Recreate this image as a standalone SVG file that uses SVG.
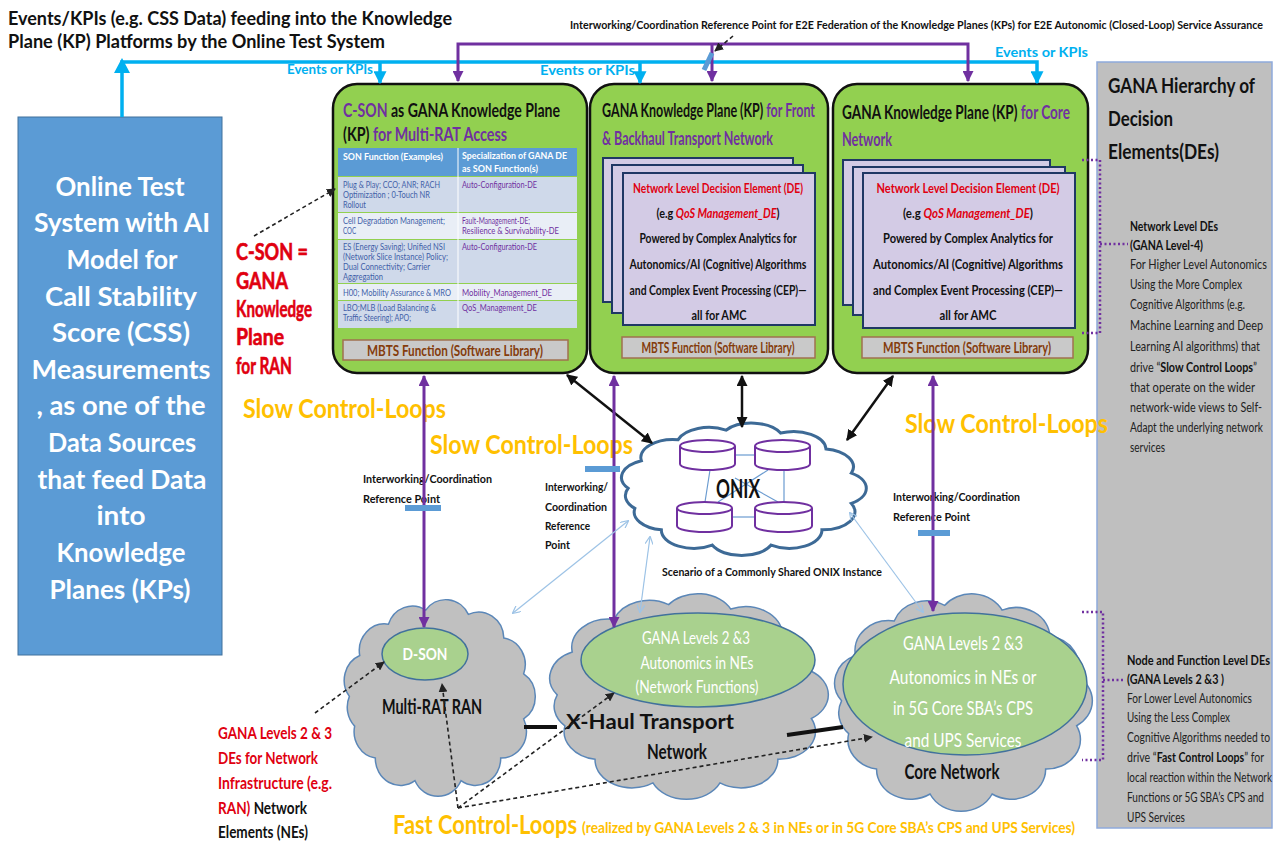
<svg xmlns="http://www.w3.org/2000/svg" width="1276" height="843" viewBox="0 0 1276 843">
<defs>
<style>
text{font-family:Lato,"Liberation Sans","Noto Sans",sans-serif}
.ttl{font-size:18px;font-weight:bold;fill:#111}
.ref{font-size:12px;font-weight:bold;fill:#111}
.evt{font-size:13px;font-weight:bold;fill:#00B0F0}
.otb{font-size:27px;font-weight:bold;fill:#fff}
.redl{font-size:22px;font-weight:bold;fill:#E00010;stroke:#E00010;stroke-width:0.6}
.kpt{font-size:19px;font-weight:bold;fill:#111}
.de{font-size:14px;font-weight:bold;fill:#111}
.mbts{font-size:15px;font-weight:bold;fill:#843C0C}
.th{font-size:8.5px;font-weight:bold;fill:#fff}
.tl{font-size:8.5px;fill:#3F5FA8}
.tr{font-size:8.5px;fill:#7030A0}
.slow{font-size:27px;font-weight:bold;fill:#FFC000}
.fastp{font-size:15px;font-weight:bold;fill:#FFC000}
.iw{font-size:12px;font-weight:bold;fill:#111}
.ph{font-size:21px;font-weight:bold;fill:#111}
.pb{font-size:12.5px;font-weight:bold;fill:#111}
.pn{font-size:12.5px;fill:#222}
.ell{font-size:18px;fill:#fff}
.ellb{font-size:20px;fill:#fff}
.cl{font-size:20px;font-weight:bold;fill:#111}
.bl{font-size:17px;font-weight:bold}
.kp{fill:#92D050;stroke:#111;stroke-width:2.5}
.mb{fill:#C9C9C9;stroke:#A0704F;stroke-width:1.5}
.dep{fill:#D3CBE5;stroke:#1F3864;stroke-width:2}
.cyl{fill:#fff;stroke:#7030A0;stroke-width:2}
.cloudg{fill:#C0C0C0;stroke:#5B87B8;stroke-width:1.5}
.cloudw{fill:#fff;stroke:#3D6A96;stroke-width:3}
.gell{fill:#A9D18E;stroke:#41719C;stroke-width:1.5}
.cy{fill:none;stroke:#00B0F0;stroke-width:3.5}
.pu{fill:none;stroke:#7030A0;stroke-width:3}
.bk{fill:none;stroke:#111;stroke-width:2.5}
.lb{fill:none;stroke:#9DC3E6;stroke-width:1.2}
.ds{fill:none;stroke:#222;stroke-width:1.6;stroke-dasharray:4 3}
.dot{fill:none;stroke:#7030A0;stroke-width:2.5;stroke-dasharray:2 2.5}
.mk{fill:#5B9BD5}
.net{stroke:#6A9BD0;stroke-width:1.2}
/* colour overrides come last so they win over the text styles */
.red{fill:#E00010}
.pur{fill:#7030A0}
.blk{fill:#111}
</style>
<marker id="ac" viewBox="0 0 10 10" refX="9" refY="5" markerUnits="userSpaceOnUse" markerWidth="13" markerHeight="13" orient="auto-start-reverse"><path d="M0,0 L10,5 L0,10 z" fill="#00B0F0"/></marker>
<marker id="ap" viewBox="0 0 10 10" refX="9" refY="5" markerUnits="userSpaceOnUse" markerWidth="11" markerHeight="11" orient="auto-start-reverse"><path d="M0,0 L10,5 L0,10 z" fill="#7030A0"/></marker>
<marker id="ab" viewBox="0 0 10 10" refX="9" refY="5" markerUnits="userSpaceOnUse" markerWidth="11" markerHeight="11" orient="auto-start-reverse"><path d="M0,0 L10,5 L0,10 z" fill="#111"/></marker>
<marker id="al" viewBox="0 0 10 10" refX="9" refY="5" markerUnits="userSpaceOnUse" markerWidth="8" markerHeight="8" orient="auto-start-reverse"><path d="M0,0 L10,5 L0,10" fill="none" stroke="#9DC3E6" stroke-width="1.5"/></marker>
<marker id="ad" viewBox="0 0 10 10" refX="9" refY="5" markerUnits="userSpaceOnUse" markerWidth="9" markerHeight="9" orient="auto-start-reverse"><path d="M0,0 L10,5 L0,10 z" fill="#222"/></marker>
<!-- cloud outline in a 100x100 box, scaled per use -->
<path id="cloud" vector-effect="non-scaling-stroke" d="M8,50 A12,12 0 0 1 12.9,31.7 A12,12 0 0 1 26.5,17.7 A12,12 0 0 1 44.2,11.4 A12,12 0 0 1 64.4,13.3 A12,12 0 0 1 81.2,23.9 A12,12 0 0 1 90.6,39.9 A12,12 0 0 1 90.6,60.1 A12,12 0 0 1 79.7,77.6 A12,12 0 0 1 60.9,87.7 A12,12 0 0 1 39.1,87.7 A12,12 0 0 1 20.3,77.6 A12,12 0 0 1 10.5,63.3 A12,12 0 0 1 8,50 Z"/>
</defs>

<rect width="1276" height="843" fill="#fff"/>

<!-- headings -->
<g id="headings">
<text class="ttl" x="8" y="25" textLength="444" lengthAdjust="spacingAndGlyphs">Events/KPIs (e.g. CSS Data) feeding into the Knowledge</text>
<text class="ttl" x="8" y="48" textLength="377" lengthAdjust="spacingAndGlyphs">Plane (KP) Platforms by the Online Test System</text>
<text class="ref" x="570" y="29" textLength="693" lengthAdjust="spacingAndGlyphs">Interworking/Coordination Reference Point for E2E Federation of the Knowledge Planes (KPs) for E2E Autonomic (Closed-Loop) Service Assurance</text>
<text class="evt" x="287" y="74" textLength="86" lengthAdjust="spacingAndGlyphs">Events or KPIs</text>
<text class="evt" x="540" y="75" textLength="95" lengthAdjust="spacingAndGlyphs">Events or KPIs</text>
<text class="evt" x="995" y="57" textLength="93" lengthAdjust="spacingAndGlyphs">Events or KPIs</text>
</g>

<!-- online test system -->
<g id="online-test-system">
<rect x="18" y="117" width="204" height="538" fill="#5B9BD5" stroke="#41719C" stroke-width="1"/>
<g class="otb" text-anchor="middle">
<text x="120" y="196" textLength="129" lengthAdjust="spacingAndGlyphs">Online Test</text>
<text x="122" y="232" textLength="176" lengthAdjust="spacingAndGlyphs">System with AI</text>
<text x="122" y="269" textLength="111" lengthAdjust="spacingAndGlyphs">Model for</text>
<text x="121" y="306" textLength="152" lengthAdjust="spacingAndGlyphs">Call Stability</text>
<text x="121" y="342" textLength="138" lengthAdjust="spacingAndGlyphs">Score (CSS)</text>
<text x="121" y="379" textLength="179" lengthAdjust="spacingAndGlyphs">Measurements</text>
<text x="121" y="415" textLength="169" lengthAdjust="spacingAndGlyphs">, as one of the</text>
<text x="122" y="452" textLength="148" lengthAdjust="spacingAndGlyphs">Data Sources</text>
<text x="122" y="489" textLength="169" lengthAdjust="spacingAndGlyphs">that feed Data</text>
<text x="121" y="525" textLength="49" lengthAdjust="spacingAndGlyphs">into</text>
<text x="121" y="562" textLength="129" lengthAdjust="spacingAndGlyphs">Knowledge</text>
<text x="120" y="599" textLength="141" lengthAdjust="spacingAndGlyphs">Planes (KPs)</text>
</g>
</g>

<!-- C-SON label -->
<g id="cson-label" class="redl">
<text x="236" y="260" textLength="72" lengthAdjust="spacingAndGlyphs">C-SON =</text>
<text x="236" y="289" textLength="52" lengthAdjust="spacingAndGlyphs">GANA</text>
<text x="236" y="317" textLength="76" lengthAdjust="spacingAndGlyphs">Knowledge</text>
<text x="236" y="345" textLength="48" lengthAdjust="spacingAndGlyphs">Plane</text>
<text x="236" y="374" textLength="56" lengthAdjust="spacingAndGlyphs">for RAN</text>
</g>

<!-- KP 1: C-SON -->
<g id="kp-cson">
<rect class="kp" x="333" y="84" width="254" height="289" rx="24"/>
<text class="kpt" x="343" y="117" textLength="217" lengthAdjust="spacingAndGlyphs"><tspan class="pur">C-SON</tspan> as GANA Knowledge Plane</text>
<text class="kpt" x="343" y="141" textLength="164" lengthAdjust="spacingAndGlyphs">(KP)<tspan class="pur"> for Multi-RAT Access</tspan></text>
<rect x="338" y="148" width="239" height="28" fill="#5B9BD5"/>
<rect x="338" y="177" width="239" height="35" fill="#CFD9EA"/>
<rect x="338" y="213" width="239" height="26" fill="#E9EEF6"/>
<rect x="338" y="240" width="239" height="43" fill="#CFD9EA"/>
<rect x="338" y="284" width="239" height="16" fill="#E9EEF6"/>
<rect x="338" y="301" width="239" height="27" fill="#CFD9EA"/>
<line x1="458" y1="148" x2="458" y2="328" stroke="#fff" stroke-width="1"/>
<text class="th" x="343" y="160" textLength="100" lengthAdjust="spacingAndGlyphs">SON Function (Examples)</text>
<text class="th" x="462" y="159" textLength="105" lengthAdjust="spacingAndGlyphs">Specialization of GANA DE</text>
<text class="th" x="462" y="172" textLength="76" lengthAdjust="spacingAndGlyphs">as SON Function(s)</text>
<text class="tl" x="343" y="188" textLength="97" lengthAdjust="spacingAndGlyphs">Plug &amp; Play; CCO; ANR; RACH</text>
<text class="tl" x="343" y="198" textLength="87" lengthAdjust="spacingAndGlyphs">Optimization ; 0-Touch NR</text>
<text class="tl" x="343" y="208" textLength="23" lengthAdjust="spacingAndGlyphs">Rollout</text>
<text class="tr" x="462" y="188" textLength="75" lengthAdjust="spacingAndGlyphs">Auto-Configuration-DE</text>
<text class="tl" x="343" y="224" textLength="102" lengthAdjust="spacingAndGlyphs">Cell Degradation Management;</text>
<text class="tl" x="343" y="234" textLength="13" lengthAdjust="spacingAndGlyphs">COC</text>
<text class="tr" x="462" y="224" textLength="68" lengthAdjust="spacingAndGlyphs">Fault-Management-DE;</text>
<text class="tr" x="462" y="234" textLength="97" lengthAdjust="spacingAndGlyphs">Resilience &amp; Survivability-DE</text>
<text class="tl" x="343" y="250" textLength="102" lengthAdjust="spacingAndGlyphs">ES (Energy Saving); Unified NSI</text>
<text class="tl" x="343" y="260" textLength="105" lengthAdjust="spacingAndGlyphs">(Network Slice Instance) Policy;</text>
<text class="tl" x="343" y="270" textLength="87" lengthAdjust="spacingAndGlyphs">Dual Connectivity; Carrier</text>
<text class="tl" x="343" y="280" textLength="40" lengthAdjust="spacingAndGlyphs">Aggregation</text>
<text class="tr" x="462" y="250" textLength="75" lengthAdjust="spacingAndGlyphs">Auto-Configuration-DE</text>
<text class="tl" x="343" y="296" textLength="108" lengthAdjust="spacingAndGlyphs">H00; Mobility Assurance &amp; MRO</text>
<text class="tr" x="462" y="296" textLength="90" lengthAdjust="spacingAndGlyphs">Mobility_Management_DE</text>
<text class="tl" x="343" y="311" textLength="93" lengthAdjust="spacingAndGlyphs">LBO;MLB (Load Balancing &amp;</text>
<text class="tl" x="343" y="321" textLength="68" lengthAdjust="spacingAndGlyphs">Traffic Steering); APO;</text>
<text class="tr" x="462" y="311" textLength="75" lengthAdjust="spacingAndGlyphs">QoS_Management_DE</text>
<rect class="mb" x="343" y="340" width="225" height="20"/>
<text class="mbts" x="455" y="356" text-anchor="middle" textLength="176" lengthAdjust="spacingAndGlyphs">MBTS Function (Software Library)</text>
</g>

<!-- KP 2: transport -->
<g id="kp-transport">
<rect class="kp" x="590" y="84" width="238" height="289" rx="24"/>
<text class="kpt" x="602" y="117" textLength="213" lengthAdjust="spacingAndGlyphs">GANA Knowledge Plane (KP)<tspan class="pur"> for Front</tspan></text>
<text class="kpt pur" x="602" y="145" textLength="171" lengthAdjust="spacingAndGlyphs">&amp; Backhaul Transport Network</text>
<rect class="dep" x="603" y="158" width="190" height="144"/>
<rect class="dep" x="612" y="165" width="191" height="148"/>
<rect class="dep" x="623" y="173" width="192" height="152"/>
<g class="de" text-anchor="middle">
<text x="718" y="193" class="de red" textLength="170" lengthAdjust="spacingAndGlyphs">Network Level Decision Element (DE)</text>
<text x="718" y="218" textLength="123" lengthAdjust="spacingAndGlyphs">(e.g <tspan class="red" font-style="italic">QoS Management_DE</tspan>)</text>
<text x="718" y="243" textLength="157" lengthAdjust="spacingAndGlyphs">Powered by Complex Analytics for</text>
<text x="718" y="269" textLength="177" lengthAdjust="spacingAndGlyphs">Autonomics/AI (Cognitive) Algorithms</text>
<text x="718" y="295" textLength="177" lengthAdjust="spacingAndGlyphs">and Complex Event Processing (CEP)—</text>
<text x="719" y="320" textLength="55" lengthAdjust="spacingAndGlyphs">all  for AMC</text>
</g>
<rect class="mb" x="622" y="337" width="193" height="21"/>
<text class="mbts" x="718" y="353" text-anchor="middle" textLength="153" lengthAdjust="spacingAndGlyphs">MBTS Function (Software Library)</text>
</g>

<!-- KP 3: core -->
<g id="kp-core">
<rect class="kp" x="833" y="84" width="255" height="289" rx="24"/>
<text class="kpt" x="842" y="119" textLength="228" lengthAdjust="spacingAndGlyphs">GANA Knowledge Plane (KP)<tspan class="pur"> for Core</tspan></text>
<text class="kpt pur" x="842" y="146" textLength="50" lengthAdjust="spacingAndGlyphs">Network</text>
<rect class="dep" x="843" y="160" width="207" height="145"/>
<rect class="dep" x="853" y="167" width="212" height="148"/>
<rect class="dep" x="863" y="173" width="212" height="155"/>
<g class="de" text-anchor="middle">
<text x="968" y="193" class="de red" textLength="183" lengthAdjust="spacingAndGlyphs">Network Level Decision Element (DE)</text>
<text x="968" y="218" textLength="130" lengthAdjust="spacingAndGlyphs">(e.g <tspan class="red" font-style="italic">QoS Management_DE</tspan>)</text>
<text x="968" y="243" textLength="170" lengthAdjust="spacingAndGlyphs">Powered by Complex Analytics for</text>
<text x="968" y="269" textLength="190" lengthAdjust="spacingAndGlyphs">Autonomics/AI (Cognitive) Algorithms</text>
<text x="968" y="295" textLength="190" lengthAdjust="spacingAndGlyphs">and Complex Event Processing (CEP)—</text>
<text x="968" y="320" textLength="57" lengthAdjust="spacingAndGlyphs">all  for AMC</text>
</g>
<rect class="mb" x="862" y="337" width="211" height="21"/>
<text class="mbts" x="967" y="353" text-anchor="middle" textLength="168" lengthAdjust="spacingAndGlyphs">MBTS Function (Software Library)</text>
</g>

<!-- hierarchy panel -->
<g id="hierarchy-panel">
<rect x="1097" y="62" width="175" height="766" fill="#BFBFBF" stroke="#8FAADC" stroke-width="1.5"/>
<text class="ph" x="1108" y="93" textLength="147" lengthAdjust="spacingAndGlyphs">GANA Hierarchy of</text>
<text class="ph" x="1108" y="126" textLength="65" lengthAdjust="spacingAndGlyphs">Decision</text>
<text class="ph" x="1108" y="159" textLength="111" lengthAdjust="spacingAndGlyphs">Elements(DEs)</text>
<text class="pb" x="1130" y="231" textLength="88" lengthAdjust="spacingAndGlyphs">Network Level DEs</text>
<text class="pb" x="1130" y="250" textLength="73" lengthAdjust="spacingAndGlyphs">(GANA Level-4)</text>
<text class="pn" x="1130" y="269" textLength="137" lengthAdjust="spacingAndGlyphs">For Higher Level Autonomics</text>
<text class="pn" x="1130" y="289" textLength="112" lengthAdjust="spacingAndGlyphs">Using the More Complex</text>
<text class="pn" x="1130" y="309" textLength="115" lengthAdjust="spacingAndGlyphs">Cognitive Algorithms (e.g.</text>
<text class="pn" x="1130" y="330" textLength="133" lengthAdjust="spacingAndGlyphs">Machine Learning and Deep</text>
<text class="pn" x="1130" y="351" textLength="130" lengthAdjust="spacingAndGlyphs">Learning AI algorithms) that</text>
<text class="pn" x="1130" y="372" textLength="127" lengthAdjust="spacingAndGlyphs">drive “<tspan font-weight="bold" fill="#111">Slow Control Loops</tspan>”</text>
<text class="pn" x="1130" y="392" textLength="125" lengthAdjust="spacingAndGlyphs">that operate on the wider</text>
<text class="pn" x="1130" y="412" textLength="132" lengthAdjust="spacingAndGlyphs">network-wide views to Self-</text>
<text class="pn" x="1130" y="432" textLength="133" lengthAdjust="spacingAndGlyphs">Adapt the underlying network</text>
<text class="pn" x="1130" y="452" textLength="35" lengthAdjust="spacingAndGlyphs">services</text>
<text class="pb" x="1127" y="665" textLength="143" lengthAdjust="spacingAndGlyphs">Node and Function Level DEs</text>
<text class="pb" x="1127" y="684" textLength="97" lengthAdjust="spacingAndGlyphs">(GANA Levels 2 &amp;3 )</text>
<text class="pn" x="1127" y="703" textLength="125" lengthAdjust="spacingAndGlyphs">For Lower Level Autonomics</text>
<text class="pn" x="1127" y="722" textLength="103" lengthAdjust="spacingAndGlyphs">Using the Less Complex</text>
<text class="pn" x="1127" y="742" textLength="143" lengthAdjust="spacingAndGlyphs">Cognitive Algorithms needed to</text>
<text class="pn" x="1127" y="762" textLength="137" lengthAdjust="spacingAndGlyphs">drive “<tspan font-weight="bold" fill="#111">Fast Control Loops</tspan>” for</text>
<text class="pn" x="1127" y="782" textLength="145" lengthAdjust="spacingAndGlyphs">local reaction within the Network</text>
<text class="pn" x="1127" y="802" textLength="137" lengthAdjust="spacingAndGlyphs">Functions or 5G SBA’s CPS and</text>
<text class="pn" x="1127" y="822" textLength="58" lengthAdjust="spacingAndGlyphs">UPS Services</text>
</g>

<!-- ONIX -->
<g id="onix">
<use href="#cloud" class="cloudw" transform="translate(606.5,413) scale(2.703,1.506)"/>
<g class="net">
<line x1="735" y1="455" x2="755" y2="455"/>
<line x1="732" y1="517" x2="755" y2="517"/>
<line x1="710" y1="470" x2="705" y2="502"/>
<line x1="784" y1="470" x2="784" y2="502"/>
<line x1="768" y1="470" x2="718" y2="502"/>
<line x1="735" y1="478" x2="778" y2="502"/>
</g>
<g class="cyl">
<path d="M680,446 V464 A27.5,6 0 0 0 735,464 V446"/><ellipse cx="707.5" cy="446" rx="27.5" ry="6"/>
<path d="M755,446 V464 A27.5,6 0 0 0 810,464 V446"/><ellipse cx="782.5" cy="446" rx="27.5" ry="6"/>
<path d="M677,508 V526 A27.5,6 0 0 0 732,526 V508"/><ellipse cx="704.5" cy="508" rx="27.5" ry="6"/>
<path d="M755,508 V526 A28.5,6 0 0 0 812,526 V508"/><ellipse cx="783.5" cy="508" rx="28.5" ry="6"/>
</g>
<text x="738" y="498" text-anchor="middle" font-size="27" font-weight="bold" fill="#111" textLength="44" lengthAdjust="spacingAndGlyphs">ONIX</text>
<text class="iw" x="662" y="576" textLength="220" lengthAdjust="spacingAndGlyphs">Scenario of a Commonly Shared ONIX Instance</text>
</g>

<!-- network domains -->
<g id="multi-rat-ran">
<use href="#cloud" class="cloudg" transform="translate(332.5,584.6) scale(2.11,2.236)"/>
<ellipse class="gell" cx="425" cy="654" rx="43" ry="26"/>
<text x="425" y="660" text-anchor="middle" font-size="17" font-weight="bold" fill="#fff" textLength="45" lengthAdjust="spacingAndGlyphs">D-SON</text>
<text class="cl" x="432" y="714" text-anchor="middle" textLength="100" lengthAdjust="spacingAndGlyphs">Multi-RAT RAN</text>
</g>
<g id="xhaul-transport">
<use href="#cloud" class="cloudg" transform="translate(532.6,578) scale(3.077,2.337)"/>
<ellipse class="gell" cx="698" cy="660" rx="117" ry="47"/>
<g class="ell" text-anchor="middle">
<text x="696" y="644" textLength="108" lengthAdjust="spacingAndGlyphs">GANA Levels 2 &amp;3</text>
<text x="697" y="669" textLength="113" lengthAdjust="spacingAndGlyphs">Autonomics in NEs</text>
<text x="697" y="693" textLength="123" lengthAdjust="spacingAndGlyphs">(Network Functions)</text>
</g>
<text class="cl" x="650" y="729" text-anchor="middle" textLength="168" lengthAdjust="spacingAndGlyphs">X-Haul Transport</text>
<text class="cl" x="677" y="759" text-anchor="middle" textLength="60" lengthAdjust="spacingAndGlyphs">Network</text>
</g>
<g id="core-network">
<use href="#cloud" class="cloudg" transform="translate(818.8,577.2) scale(2.846,2.472)"/>
<ellipse class="gell" cx="965" cy="684" rx="122" ry="71"/>
<g class="ellb" text-anchor="middle">
<text x="963" y="650" textLength="120" lengthAdjust="spacingAndGlyphs">GANA Levels 2 &amp;3</text>
<text x="963" y="684" textLength="147" lengthAdjust="spacingAndGlyphs">Autonomics in NEs or</text>
<text x="963" y="715" textLength="140" lengthAdjust="spacingAndGlyphs">in 5G Core SBA’s CPS</text>
<text x="963" y="747" textLength="117" lengthAdjust="spacingAndGlyphs">and UPS Services</text>
</g>
<text class="cl" x="952" y="779" text-anchor="middle" textLength="95" lengthAdjust="spacingAndGlyphs">Core Network</text>
</g>

<!-- NE label -->
<g id="ne-label" class="bl">
<text class="red" x="218" y="739" textLength="114" lengthAdjust="spacingAndGlyphs">GANA Levels 2 &amp; 3</text>
<text class="red" x="218" y="764" textLength="100" lengthAdjust="spacingAndGlyphs">DEs for Network</text>
<text class="red" x="218" y="789" textLength="114" lengthAdjust="spacingAndGlyphs">Infrastructure (e.g.</text>
<text x="218" y="814" textLength="89" lengthAdjust="spacingAndGlyphs"><tspan class="red">RAN)</tspan><tspan class="blk"> Network</tspan></text>
<text class="blk" x="218" y="838" textLength="90" lengthAdjust="spacingAndGlyphs">Elements (NEs)</text>
</g>

<!-- control loop labels -->
<g id="loop-labels">
<text class="slow" x="243" y="418" textLength="203" lengthAdjust="spacingAndGlyphs">Slow Control-Loops</text>
<text class="slow" x="430" y="454" textLength="203" lengthAdjust="spacingAndGlyphs">Slow Control-Loops</text>
<text class="slow" x="905" y="433" textLength="203" lengthAdjust="spacingAndGlyphs">Slow Control-Loops</text>
<text class="slow" x="393" y="834" textLength="184" lengthAdjust="spacingAndGlyphs">Fast Control-Loops</text>
<text class="fastp" x="582" y="833" textLength="493" lengthAdjust="spacingAndGlyphs">(realized by GANA Levels 2 &amp; 3 in NEs or in 5G Core SBA’s CPS and UPS Services)</text>
</g>

<!-- reference point labels -->
<g id="ref-points">
<text class="iw" x="363" y="483" textLength="129" lengthAdjust="spacingAndGlyphs">Interworking/Coordination</text>
<text class="iw" x="363" y="503" textLength="77" lengthAdjust="spacingAndGlyphs">Reference Point</text>
<text class="iw" x="545" y="491" textLength="63" lengthAdjust="spacingAndGlyphs">Interworking/</text>
<text class="iw" x="545" y="511" textLength="62" lengthAdjust="spacingAndGlyphs">Coordination</text>
<text class="iw" x="545" y="530" textLength="45" lengthAdjust="spacingAndGlyphs">Reference</text>
<text class="iw" x="545" y="549" textLength="25" lengthAdjust="spacingAndGlyphs">Point</text>
<text class="iw" x="893" y="501" textLength="127" lengthAdjust="spacingAndGlyphs">Interworking/Coordination</text>
<text class="iw" x="893" y="521" textLength="77" lengthAdjust="spacingAndGlyphs">Reference Point</text>
</g>

<!-- connectors -->
<g id="connectors">
<path class="cy" d="M122,117 V62 H1037 V83" marker-end="url(#ac)"/>
<polygon points="114,73 122,58 130,73" fill="#00B0F0"/>
<path class="cy" d="M380,62 V83" marker-end="url(#ac)"/>
<path class="cy" d="M640,62 V83" marker-end="url(#ac)"/>
<path class="pu" d="M458,81 V44 H968 V81" marker-start="url(#ap)" marker-end="url(#ap)"/>
<path class="pu" d="M712,44 V81" marker-end="url(#ap)"/>
<line x1="704" y1="70" x2="712" y2="53" stroke="#5B9BD5" stroke-width="5"/>
<path class="ds" d="M733,36 L715,51" marker-end="url(#ad)"/>

<path class="bk" d="M567,375 L652,443" marker-start="url(#ab)" marker-end="url(#ab)"/>
<path class="bk" d="M742,376 V427" marker-start="url(#ab)" marker-end="url(#ab)"/>
<path class="bk" d="M893,376 L847,440" marker-start="url(#ab)" marker-end="url(#ab)"/>

<path class="pu" d="M424,376 V627" marker-start="url(#ap)" marker-end="url(#ap)"/>
<path class="pu" d="M614,376 V627" marker-start="url(#ap)" marker-end="url(#ap)"/>
<path class="pu" d="M933,376 V611" marker-start="url(#ap)" marker-end="url(#ap)"/>
<rect class="mk" x="405" y="505" width="36" height="6"/>
<rect class="mk" x="585" y="466" width="35" height="6"/>
<rect class="mk" x="918" y="530" width="32" height="6"/>

<path class="lb" d="M628,521 L513,613" marker-start="url(#al)" marker-end="url(#al)"/>
<path class="lb" d="M650,537 L640,612" marker-start="url(#al)" marker-end="url(#al)"/>
<path class="lb" d="M850,513 L923,612" marker-start="url(#al)" marker-end="url(#al)"/>

<line x1="524" y1="727" x2="557" y2="727" stroke="#111" stroke-width="4"/>
<line x1="787" y1="735" x2="843" y2="727" stroke="#111" stroke-width="4"/>

<path class="ds" d="M254,236 L335,189" marker-end="url(#ad)"/>
<path class="ds" d="M315,713 L384,662" marker-end="url(#ad)"/>
<path class="ds" d="M458,808 L442,684" marker-end="url(#ad)"/>
<path class="ds" d="M458,808 L614,693" marker-end="url(#ad)"/>
<path class="ds" d="M458,808 L872,737" marker-end="url(#ad)"/>

<path class="dot" d="M1082,160 H1100 V333 H1082"/>
<path class="dot" d="M1100,244 H1128"/>
<path class="dot" d="M1082,612 H1103 V760 H1082"/>
<path class="dot" d="M1103,680 H1125"/>
</g>
</svg>
